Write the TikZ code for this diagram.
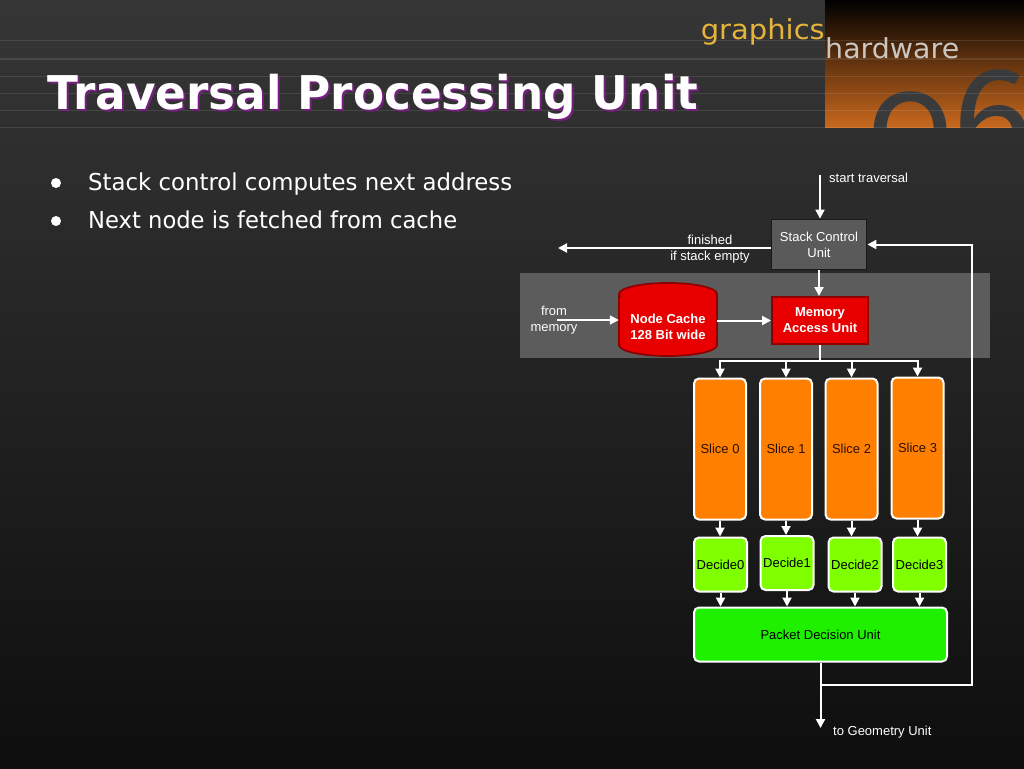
\documentclass[tikz,border=0pt]{standalone}
\usepackage{fontspec}
\usepackage{graphicx}
\setmainfont{Liberation Sans}
\newfontfamily\titlefont{DejaVu Sans}
\newfontfamily\hdfont[Numbers=OldStyle]{Fira Sans}
\usetikzlibrary{arrows.meta}
\definecolor{bgtop}{HTML}{363636}
\definecolor{bgbot}{HTML}{0E0E0E}
\definecolor{pantop}{HTML}{000000}
\definecolor{panbot}{HTML}{C8681E}
\definecolor{sixcol}{HTML}{383A3C}
\definecolor{gold}{HTML}{E6B43A}
\definecolor{hwgray}{HTML}{CCC6C0}
\definecolor{shadowpurple}{HTML}{74207E}
\definecolor{bandgray}{HTML}{5C5C5C}
\definecolor{stackgray}{HTML}{5A5A5A}
\definecolor{redfill}{HTML}{E80000}
\definecolor{redline}{HTML}{8E0000}
\definecolor{slicefill}{HTML}{FF8000}
\definecolor{slicetext}{HTML}{2A1000}
\definecolor{decfill}{HTML}{80FF00}
\definecolor{pdufill}{HTML}{1EF000}
\tikzset{
  lbl/.style={text=white, font=\fontsize{13}{16}\selectfont, align=center, inner sep=0},
  arr/.style={draw=white, line width=2pt, -{Triangle[length=9pt,width=9pt]}},
  wire/.style={draw=white, line width=2pt},
  slicebox/.style={draw=white, line width=2pt, fill=slicefill, rounded corners=5pt,
    minimum width=52pt, minimum height=141pt, inner sep=0, text=slicetext, font=\fontsize{13}{16}\selectfont},
  decbox/.style={draw=white, line width=2pt, fill=decfill, rounded corners=5pt,
    minimum width=53pt, minimum height=54pt, inner sep=0, text=black, font=\fontsize{13}{16}\selectfont},
  hline/.style={draw=white, opacity=0.10, line width=1pt}
}
\begin{document}
\begin{tikzpicture}[x=1pt,y=-1pt]
\useasboundingbox (0,0) rectangle (1024,768);
% background
\shade[top color=bgtop, bottom color=bgbot] (0,0) rectangle (1024,768);
% header panel
\shade[top color=pantop, bottom color=panbot] (825,0) rectangle (1024,127);
\begin{scope}
  \clip (825,0) rectangle (1024,127);
  \node[anchor=base west, inner sep=0, text=sixcol, text height=0pt, text depth=0pt] (six) at (868,171)
    {\hdfont{\fontsize{139}{139}\selectfont 0}{\fontsize{150}{150}\selectfont 6}};
\end{scope}
\foreach \yy in {41,59,76,93,110,127} \draw[hline] (0,\yy) -- (1024,\yy);
\node[anchor=base east, inner sep=0, text=gold] (graphics) at (825,39)
  {\resizebox{124pt}{\height}{\titlefont\fontsize{27.5}{30}\selectfont graphics}};
\node[anchor=base west, inner sep=0, text=hwgray] (hardware) at (825,58)
  {\resizebox{134pt}{\height}{\titlefont\fontsize{27.5}{30}\selectfont hardware}};
% title
\node[anchor=base west, inner sep=0, text=shadowpurple] (titleshadow) at (49,111)
  {\resizebox{651pt}{\height}{\titlefont\bfseries\fontsize{46.5}{50}\selectfont Traversal Processing Unit}};
\node[anchor=base west, inner sep=0, text=white] (title) at (47,109)
  {\resizebox{651pt}{\height}{\titlefont\bfseries\fontsize{46.5}{50}\selectfont Traversal Processing Unit}};
% bullets
\node[circle, fill=white, inner sep=0, minimum size=10pt] (b1) at (56,183) {};
\node[circle, fill=white, inner sep=0, minimum size=10pt] (b2) at (56,221) {};
\node[anchor=base west, inner sep=0, text=white] (t1) at (88,190)
  {\resizebox{424pt}{\height}{\titlefont\fontsize{23.3}{28}\selectfont Stack control computes next address}};
\node[anchor=base west, inner sep=0, text=white] (t2) at (88,228)
  {\resizebox{369pt}{\height}{\titlefont\fontsize{23.3}{28}\selectfont Next node is fetched from cache}};
% band
\fill[bandgray] (520,273) rectangle (990,358);
% stack control
\node[draw=black!90, line width=1.8pt, fill=stackgray, minimum width=95pt, minimum height=50pt,
  lbl] (stack) at (819,244.5) {Stack Control\\Unit};
% memory access unit
\node[draw=redline, line width=2pt, fill=redfill, minimum width=96pt, minimum height=47pt,
  lbl, font=\bfseries\fontsize{13}{16}\selectfont] (mau) at (820,320.5) {Memory\\Access Unit};
% node cache cylinder
\filldraw[fill=redfill, draw=redline, line width=1.8pt]
  (619,294) -- (619,345) arc (180:0:49 and 11) -- (717,294) -- cycle;
\filldraw[fill=redfill, draw=redline, line width=1.8pt] (668,294) ellipse (49 and 11);
\fill[redfill] (620.5,296) rectangle (715.5,343);
\node[minimum width=98pt, minimum height=75pt, inner sep=0] (cache) at (668,319.5) {};
\node[lbl, font=\bfseries\fontsize{13}{16}\selectfont] (cachetext) at (668,327) {Node Cache\\128 Bit wide};
% slices
\node[slicebox] (s0) at (720,449) {Slice 0};
\node[slicebox] (s1) at (786,449) {Slice 1};
\node[slicebox] (s2) at (851.5,449) {Slice 2};
\node[slicebox] (s3) at (917.5,448) {Slice 3};
% decides
\node[decbox] (d0) at (720.5,564.5) {Decide0};
\node[decbox] (d1) at (787,563) {Decide1};
\node[decbox] (d2) at (855,564.5) {Decide2};
\node[decbox] (d3) at (919.5,564.5) {Decide3};
% packet decision unit
\node[draw=white, line width=2pt, fill=pdufill, rounded corners=5pt, minimum width=253pt,
  minimum height=54pt, inner sep=0, font=\fontsize{13}{16}\selectfont] (pdu) at (820.5,634.5) {Packet Decision Unit};
% labels
\node[lbl, anchor=west] (starttxt) at (829,178) {start traversal};
\node[lbl] (fintxt) at (710,249) {finished\\if stack empty};
\node[lbl] (memtxt) at (554,320) {from\\memory};
\node[lbl, anchor=west] (geotxt) at (833,732) {to Geometry Unit};
% connectors
\coordinate (start) at (820,175);
\coordinate (finend) at (558,248);
\coordinate (memstart) at (557,320);
\coordinate (split) at (820,361);
\coordinate (loopc) at (972,685);
\coordinate (geoend) at (820.5,728);
\draw[arr] (start) -- (start |- stack.north);
\draw[arr] (stack.west |- finend) -- (finend);
\draw[arr] (stack.south) -- (stack.south |- mau.north);
\draw[arr] (memstart) -- (cache.west |- memstart);
\draw[arr] (cache.east |- mau.west) -- (mau.west);
\draw[wire] (mau.south) -- (split);
\draw[wire, line cap=rect] (s0.north |- split) -- (s3.north |- split);
\foreach \s in {s0,s1,s2,s3} \draw[arr] (\s.north |- split) -- (\s.north);
\draw[arr] (s0.south) -- (s0.south |- d0.north);
\draw[arr] (s1.south) -- (s1.south |- d1.north);
\draw[arr] (s2.south) -- (s2.south |- d2.north);
\draw[arr] (s3.south) -- (s3.south |- d3.north);
\foreach \d in {d0,d1,d2,d3} \draw[arr] (\d.south) -- (\d.south |- pdu.north);
\draw[arr] (pdu.south) -- (geoend);
\draw[arr, line join=miter] (pdu.south |- loopc) -- (loopc) |- (stack.east);
\end{tikzpicture}
\end{document}
